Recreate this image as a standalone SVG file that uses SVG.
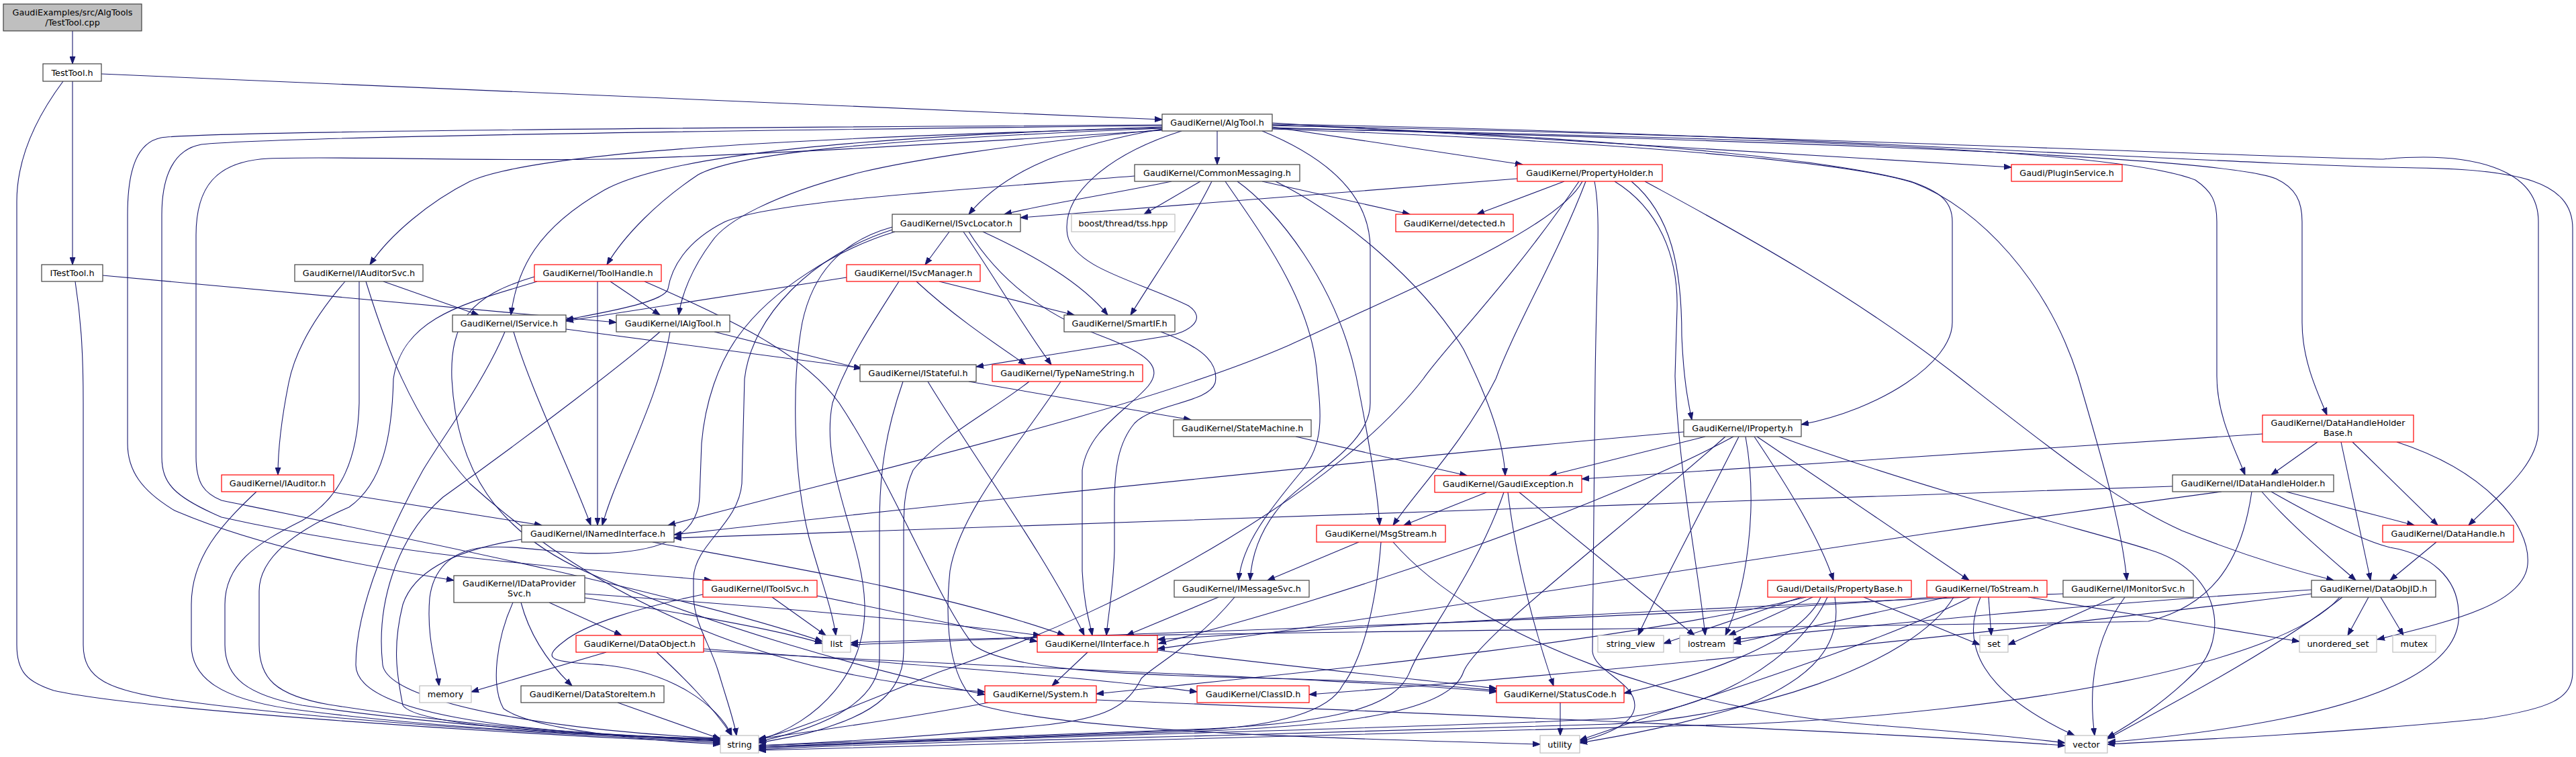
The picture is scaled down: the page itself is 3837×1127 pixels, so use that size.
<svg xmlns="http://www.w3.org/2000/svg" width="3837" height="1127" viewBox="0 0 3837 1127">
<defs>
<marker id="a" markerWidth="12" markerHeight="9" refX="11" refY="4.5" orient="auto" markerUnits="userSpaceOnUse"><path d="M0,0.5 L11,4.5 L0,8.5 z" fill="#191970" stroke="#191970" stroke-width="1"/></marker>
<style>
.b{fill:#ffffff;stroke:#404040;stroke-width:1.2}
.r{fill:#ffffff;stroke:#ff0000;stroke-width:1.2}
.g{fill:#ffffff;stroke:#bfbfbf;stroke-width:1.2}
.root{fill:#bfbfbf;stroke:#404040;stroke-width:1.2}
text{font-family:"DejaVu Sans","Liberation Sans",sans-serif;font-size:12.8px;fill:#000000;text-anchor:middle}
#edges path{fill:none;stroke:#191970;stroke-width:1.1;marker-end:url(#a)}
</style>
</defs>
<rect width="3837" height="1127" fill="#ffffff"/>
<g id="edges">
<path d="M108,46 L108,95"/>
<path d="M108,121 L108,394"/>
<path d="M151,110 L1731,178"/>
<path d="M94,121 C50,180 25,240 25,300 L25,960 C25,1000 40,1015 80,1028 C200,1055 700,1090 1073,1106"/>
<path d="M153,410 L918,480"/>
<path d="M112,419 C120,470 124,520 124,600 L124,960 C124,1010 160,1028 260,1042 C500,1075 850,1095 1073,1104"/>
<path d="M1813,195 L1813,245"/>
<path d="M1895,189 L2268,245"/>
<path d="M1895,183 L2996,249"/>
<path d="M1731,192 C1600,215 1500,250 1443,319"/>
<path d="M1731,190 C1200,205 800,225 700,270 C640,300 580,350 551,394"/>
<path d="M1731,191 C1300,208 1100,228 1040,260 C980,300 930,350 904,394"/>
<path d="M1731,189 C1300,203 1000,228 900,283 C800,340 770,400 761,469"/>
<path d="M1731,193 C1500,215 1350,240 1280,257 C1150,290 1080,330 1060,360 C1030,400 1015,440 1011,469"/>
<path d="M1760,195 C1650,230 1580,290 1590,350 C1600,400 1700,420 1770,455 C1800,475 1770,495 1740,500 L1454,546"/>
<path d="M1895,186 C2300,200 2700,230 2846,270 C2890,285 2908,300 2908,330 L2908,480 C2908,540 2800,610 2683,632"/>
<path d="M1895,190 C2600,210 3300,230 3390,266 C3420,280 3429,300 3429,330 L3429,480 C3429,540 3455,590 3466,618"/>
<path d="M1895,191 C2600,205 3150,220 3270,268 C3295,285 3302,300 3302,330 L3302,560 C3302,620 3330,670 3344,707"/>
<path d="M1895,187 C2600,200 3400,235 3550,237 C3680,225 3781,250 3781,330 L3781,640 C3781,690 3730,730 3677,782"/>
<path d="M1895,185 C2600,195 3300,245 3600,250 C3750,252 3832,270 3832,340 L3832,1000 C3832,1040 3800,1055 3700,1070 C3500,1090 3300,1100 3139,1108"/>
<path d="M1895,192 C2400,210 2750,240 2850,272 C2950,310 3050,420 3095,560 C3130,680 3160,780 3168,864"/>
<path d="M1880,195 C1990,240 2041,300 2041,370 L2041,600 C2041,660 1960,700 1910,750 C1875,790 1864,830 1862,864"/>
<path d="M1731,187 C1000,195 400,205 300,215 C260,222 241,260 241,320 L241,680 C241,720 260,740 330,770 C600,830 900,850 1060,864"/>
<path d="M1731,186 C1000,190 300,196 240,205 C205,212 190,250 190,320 L190,660 C190,700 210,730 260,760 C400,820 560,845 676,864"/>
<path d="M1731,194 C1400,215 1100,232 900,237 C700,240 500,232 400,236 C320,240 292,280 292,350 L292,680 C292,720 305,735 330,745 C600,800 1000,880 1225,955"/>
<path d="M1745,270 C1650,290 1550,305 1496,319"/>
<path d="M1788,270 L1704,319"/>
<path d="M1805,270 C1770,340 1720,410 1684,469"/>
<path d="M1880,270 L2100,319"/>
<path d="M1900,270 C2000,320 2120,420 2180,520 C2220,600 2240,660 2242,708"/>
<path d="M1843,270 C1900,310 1990,420 2020,560 C2040,660 2052,730 2055,782"/>
<path d="M1825,270 C1880,350 1955,450 1962,560 C1968,620 1972,660 1940,700 C1890,760 1850,810 1845,864"/>
<path d="M1690,262 C1400,285 1150,300 1080,330 C1020,360 1000,400 995,430 C990,450 900,465 843,476"/>
<path d="M2260,266 L1520,324"/>
<path d="M2330,270 L2200,319"/>
<path d="M2430,270 C2490,320 2505,400 2505,500 C2508,570 2515,600 2520,625"/>
<path d="M2357,270 C2320,340 2100,430 1920,514 C1700,610 1300,700 995,782"/>
<path d="M2362,270 C2320,380 2260,480 2228,564 C2180,660 2110,730 2075,782"/>
<path d="M2375,270 C2385,320 2378,400 2376,564 L2372,970 C2375,1000 2435,1015 2435,1050 C2435,1075 2400,1092 2353,1104"/>
<path d="M2405,270 C2470,310 2500,380 2498,460 L2495,560 C2500,700 2530,850 2540,946"/>
<path d="M2450,270 C2560,330 2750,430 2921,564 C3050,665 3150,745 3250,790 C3350,830 3420,850 3476,864"/>
<path d="M2352,270 C2250,420 2150,520 2120,564 C2000,720 1700,900 1400,1000 C1250,1060 1180,1090 1130,1100"/>
<path d="M1414,345 L1378,394"/>
<path d="M1464,345 C1540,380 1610,420 1650,469"/>
<path d="M1435,345 C1480,410 1520,480 1566,543"/>
<path d="M1443,345 C1490,420 1560,470 1640,500 C1720,530 1730,550 1710,575 C1680,610 1620,640 1612,700 L1612,850 C1614,900 1624,930 1627,946"/>
<path d="M1329,338 C1250,360 1210,410 1195,480 C1180,560 1180,700 1205,800 C1225,870 1240,910 1245,946"/>
<path d="M1329,342 C1210,380 1120,470 1109,564 L1105,720 C1100,780 1035,810 1033,860 L1033,890 C1035,930 1058,960 1070,1000 C1085,1050 1094,1075 1097,1095"/>
<path d="M1333,345 C1250,370 1150,430 1100,500 C1070,540 1050,600 1045,660 L1042,740 C1040,790 1000,815 926,822 C850,830 780,810 720,815 C670,820 645,850 640,890 C635,950 650,990 654,1021"/>
<path d="M1261,413 L843,478"/>
<path d="M1399,419 L1600,469"/>
<path d="M1365,419 C1420,470 1480,510 1528,543"/>
<path d="M1339,419 C1300,480 1260,540 1240,600 C1220,700 1285,800 1288,900 C1290,1000 1220,1075 1130,1102"/>
<path d="M514,419 C470,470 440,520 430,570 C418,630 414,670 414,707"/>
<path d="M571,419 L713,469"/>
<path d="M535,419 L535,600 C533,680 510,740 450,775 C380,810 335,840 335,900 L335,960 C335,1010 370,1035 450,1050 C650,1080 900,1095 1073,1103"/>
<path d="M545,419 C570,500 610,620 700,720 C900,900 1150,1010 1467,1030"/>
<path d="M909,419 L983,469"/>
<path d="M890,419 L890,782"/>
<path d="M796,412 C700,440 670,480 673,564 C680,700 740,790 870,850 C1050,930 1300,1000 1467,1034"/>
<path d="M800,419 C700,450 600,470 586,564 C584,650 570,720 520,755 C440,790 386,830 386,880 L386,960 C386,1010 410,1035 490,1049 C700,1082 900,1095 1073,1101"/>
<path d="M960,419 C1100,480 1200,530 1250,600 C1330,720 1400,900 1450,960 C1500,1000 1700,1005 1900,1010 C2050,1014 2150,1020 2229,1028"/>
<path d="M765,494 C790,580 850,700 880,782"/>
<path d="M843,490 L1283,548"/>
<path d="M752,494 C720,570 660,650 630,700 C585,780 530,900 530,990 C530,1060 750,1092 1073,1100"/>
<path d="M998,494 C980,600 920,700 897,782"/>
<path d="M1064,494 L1283,549"/>
<path d="M983,494 C930,540 800,640 660,740 C590,800 560,900 570,990 C580,1050 850,1090 1073,1099"/>
<path d="M1729,494 C1800,520 1815,545 1810,570 C1800,600 1720,600 1690,630 C1665,660 1660,700 1660,750 L1660,820 C1658,880 1650,920 1648,946"/>
<path d="M1443,568 L1774,625"/>
<path d="M1382,568 C1450,680 1560,830 1615,946"/>
<path d="M1345,568 C1320,640 1310,700 1310,780 L1310,980 C1310,1040 1240,1080 1130,1104"/>
<path d="M1533,568 C1480,610 1400,650 1360,700 C1346,730 1346,760 1346,800 L1346,970 C1346,1030 1300,1060 1240,1080 C1200,1095 1160,1100 1130,1106"/>
<path d="M1580,568 C1520,660 1430,760 1415,850 C1405,950 1420,1020 1460,1050 C1600,1090 2000,1100 2294,1108"/>
<path d="M1930,650 L2185,708"/>
<path d="M2540,650 L2308,708"/>
<path d="M2508,643 C2200,670 1500,740 1004,796"/>
<path d="M2613,650 C2660,720 2710,800 2731,864"/>
<path d="M2617,650 L2933,864"/>
<path d="M2582,650 C2400,750 2000,890 1726,958"/>
<path d="M2590,650 C2540,750 2470,880 2440,946"/>
<path d="M2600,650 C2620,760 2600,880 2570,946"/>
<path d="M2570,650 C2400,800 2200,950 2180,1000 C2160,1060 2000,1080 1800,1088 C1500,1098 1250,1106 1130,1112"/>
<path d="M2650,650 C2900,740 3150,800 3200,818 C3310,850 3320,950 3270,1000 C3220,1050 3170,1080 3139,1098"/>
<path d="M3452,658 L3383,707"/>
<path d="M3504,658 L3631,782"/>
<path d="M3487,658 L3531,864"/>
<path d="M3570,658 C3700,700 3770,780 3765,840 C3760,900 3650,925 3541,952"/>
<path d="M3370,646 L2356,713"/>
<path d="M497,733 L807,782"/>
<path d="M382,732 C330,780 285,830 285,900 L285,960 C285,1010 330,1040 430,1055 C650,1085 900,1095 1073,1102"/>
<path d="M2214,733 L2091,782"/>
<path d="M2246,733 C2260,850 2290,950 2314,1021"/>
<path d="M2263,733 L2524,946"/>
<path d="M2240,733 C2200,850 2120,950 2100,1000 C2080,1050 2000,1075 1800,1085 C1500,1095 1250,1105 1130,1110"/>
<path d="M3236,724 C2500,745 1500,790 1004,801"/>
<path d="M3405,732 L3596,782"/>
<path d="M3369,732 C3410,780 3470,830 3509,864"/>
<path d="M3383,732 C3450,770 3520,805 3560,815 C3620,825 3660,860 3662,910 C3670,990 3550,1040 3400,1070 C3300,1090 3200,1100 3140,1105"/>
<path d="M3309,732 C2800,800 2200,900 1724,966"/>
<path d="M3354,732 C3340,830 3300,900 3200,925 C2500,938 1700,940 1267,957"/>
<path d="M3629,807 L3560,864"/>
<path d="M972,807 C1150,840 1400,880 1586,946"/>
<path d="M777,803 C700,815 620,840 600,900 C585,960 590,1000 600,1050 C620,1080 850,1095 1073,1100"/>
<path d="M2024,807 L1888,864"/>
<path d="M2057,807 C2050,900 2030,980 2000,1020 C1980,1060 1900,1080 1800,1086 C1500,1098 1250,1107 1130,1112"/>
<path d="M2075,807 C2200,950 2500,1060 2800,1080 C2950,1092 3030,1100 3076,1106"/>
<path d="M818,897 L926,946"/>
<path d="M776,897 C790,950 820,990 852,1021"/>
<path d="M764,897 C740,950 730,1020 750,1055 C800,1090 1000,1105 1073,1108"/>
<path d="M871,884 C1100,900 1350,920 1550,946"/>
<path d="M871,890 C1000,910 1150,935 1225,958"/>
<path d="M1150,889 L1230,946"/>
<path d="M1047,885 C950,905 870,930 840,955 C800,985 830,985 900,990 C1000,1000 1070,1050 1090,1095"/>
<path d="M1217,887 L1545,955"/>
<path d="M1815,889 L1678,946"/>
<path d="M1839,889 C1780,960 1720,990 1700,1010 C1680,1050 1650,1070 1550,1080 C1400,1095 1250,1105 1130,1110"/>
<path d="M2683,889 L2478,958"/>
<path d="M2700,889 L2575,946"/>
<path d="M2776,889 L2949,960"/>
<path d="M2712,889 C2680,960 2520,1010 2419,1032"/>
<path d="M2722,889 C2680,980 2550,1060 2400,1070 C2200,1080 1800,1090 1500,1100 C1300,1106 1200,1110 1130,1114"/>
<path d="M2733,889 C2745,960 2700,1010 2600,1050 C2500,1080 2420,1095 2353,1106"/>
<path d="M2690,889 C2400,960 1900,1005 1633,1033"/>
<path d="M2900,889 L2582,958"/>
<path d="M2962,889 L2966,946"/>
<path d="M2950,889 C2920,960 2950,1030 3090,1095"/>
<path d="M3021,889 L3425,955"/>
<path d="M2910,889 C2850,990 2600,1070 2400,1078 C2200,1086 1800,1095 1500,1103 C1300,1108 1200,1112 1130,1116"/>
<path d="M2880,889 C2500,920 1800,938 1267,960"/>
<path d="M2935,889 C2800,960 2500,1050 2353,1102"/>
<path d="M3150,889 L2991,960"/>
<path d="M3165,889 C3120,950 3110,1020 3120,1095"/>
<path d="M3073,884 C2600,900 2000,935 1724,952"/>
<path d="M3528,889 L3497,946"/>
<path d="M3546,889 L3580,946"/>
<path d="M3443,878 C3100,900 2800,930 2582,952"/>
<path d="M3443,884 C3000,940 2400,1000 1950,1034"/>
<path d="M3485,889 C3400,990 3000,1060 2600,1078 C2200,1090 1700,1100 1130,1117"/>
<path d="M3489,889 C3400,960 3250,1040 3139,1100"/>
<path d="M903,971 L702,1030"/>
<path d="M978,971 C1020,1010 1060,1050 1090,1095"/>
<path d="M1048,966 C1300,985 1600,1005 1783,1030"/>
<path d="M1048,969 C1500,995 2000,1010 2229,1030"/>
<path d="M1620,971 L1567,1021"/>
<path d="M1724,968 C1900,990 2100,1010 2229,1025"/>
<path d="M920,1046 L1073,1100"/>
<path d="M1472,1046 C1350,1070 1200,1090 1130,1100"/>
<path d="M1633,1042 C2200,1065 2800,1090 3076,1110"/>
<path d="M2324,1046 L2324,1095"/>
</g>
<g id="n0"><rect class="root" x="5" y="6" width="206" height="40"/><text x="108" y="22.5">GaudiExamples/src/AlgTools</text><text x="108" y="37.5">/TestTool.cpp</text></g>
<g id="n1"><rect class="b" x="64" y="95" width="87" height="26"/><text x="107.5" y="112.5">TestTool.h</text></g>
<g id="n2"><rect class="b" x="62" y="394" width="91" height="25"/><text x="107.5" y="411">ITestTool.h</text></g>
<g id="n3"><rect class="b" x="1731" y="170" width="164" height="25"/><text x="1813" y="187">GaudiKernel/AlgTool.h</text></g>
<g id="n4"><rect class="b" x="1690" y="245" width="246" height="25"/><text x="1813" y="262">GaudiKernel/CommonMessaging.h</text></g>
<g id="n5"><rect class="r" x="2260" y="245" width="216" height="25"/><text x="2368" y="262">GaudiKernel/PropertyHolder.h</text></g>
<g id="n6"><rect class="r" x="2996" y="245" width="165" height="25"/><text x="3078.5" y="262">Gaudi/PluginService.h</text></g>
<g id="n7"><rect class="b" x="1329" y="319" width="191" height="26"/><text x="1424.5" y="336.5">GaudiKernel/ISvcLocator.h</text></g>
<g id="n8"><rect class="g" x="1596" y="319" width="154" height="26"/><text x="1673" y="336.5">boost/thread/tss.hpp</text></g>
<g id="n9"><rect class="r" x="2079" y="319" width="175" height="26"/><text x="2166.5" y="336.5">GaudiKernel/detected.h</text></g>
<g id="n10"><rect class="b" x="439" y="394" width="191" height="25"/><text x="534.5" y="411">GaudiKernel/IAuditorSvc.h</text></g>
<g id="n11"><rect class="r" x="796" y="394" width="189" height="25"/><text x="890.5" y="411">GaudiKernel/ToolHandle.h</text></g>
<g id="n12"><rect class="r" x="1261" y="394" width="199" height="25"/><text x="1360.5" y="411">GaudiKernel/ISvcManager.h</text></g>
<g id="n13"><rect class="b" x="674" y="469" width="169" height="25"/><text x="758.5" y="486">GaudiKernel/IService.h</text></g>
<g id="n14"><rect class="b" x="918" y="469" width="169" height="25"/><text x="1002.5" y="486">GaudiKernel/IAlgTool.h</text></g>
<g id="n15"><rect class="b" x="1585" y="469" width="165" height="25"/><text x="1667.5" y="486">GaudiKernel/SmartIF.h</text></g>
<g id="n16"><rect class="b" x="1281" y="543" width="173" height="25"/><text x="1367.5" y="560">GaudiKernel/IStateful.h</text></g>
<g id="n17"><rect class="r" x="1478" y="543" width="224" height="25"/><text x="1590" y="560">GaudiKernel/TypeNameString.h</text></g>
<g id="n18"><rect class="b" x="1748" y="625" width="205" height="25"/><text x="1850.5" y="642">GaudiKernel/StateMachine.h</text></g>
<g id="n19"><rect class="b" x="2508" y="625" width="175" height="25"/><text x="2595.5" y="642">GaudiKernel/IProperty.h</text></g>
<g id="n20"><rect class="r" x="3370" y="618" width="225" height="40"/><text x="3482.5" y="634">GaudiKernel/DataHandleHolder</text><text x="3482.5" y="649">Base.h</text></g>
<g id="n21"><rect class="r" x="330" y="707" width="167" height="25"/><text x="413.5" y="724">GaudiKernel/IAuditor.h</text></g>
<g id="n22"><rect class="r" x="2137" y="708" width="219" height="25"/><text x="2246.5" y="725">GaudiKernel/GaudiException.h</text></g>
<g id="n23"><rect class="b" x="3236" y="707" width="240" height="25"/><text x="3356" y="724">GaudiKernel/IDataHandleHolder.h</text></g>
<g id="n24"><rect class="b" x="777" y="782" width="227" height="25"/><text x="890.5" y="799">GaudiKernel/INamedInterface.h</text></g>
<g id="n25"><rect class="r" x="1961" y="782" width="192" height="25"/><text x="2057" y="799">GaudiKernel/MsgStream.h</text></g>
<g id="n26"><rect class="r" x="3549" y="782" width="195" height="25"/><text x="3646.5" y="799">GaudiKernel/DataHandle.h</text></g>
<g id="n27"><rect class="b" x="676" y="857" width="195" height="40"/><text x="773.5" y="873">GaudiKernel/IDataProvider</text><text x="773.5" y="888">Svc.h</text></g>
<g id="n28"><rect class="r" x="1047" y="864" width="170" height="25"/><text x="1132" y="881">GaudiKernel/IToolSvc.h</text></g>
<g id="n29"><rect class="b" x="1749" y="864" width="201" height="25"/><text x="1849.5" y="881">GaudiKernel/IMessageSvc.h</text></g>
<g id="n30"><rect class="r" x="2633" y="864" width="214" height="25"/><text x="2740" y="881">Gaudi/Details/PropertyBase.h</text></g>
<g id="n31"><rect class="r" x="2870" y="864" width="179" height="25"/><text x="2959.5" y="881">GaudiKernel/ToStream.h</text></g>
<g id="n32"><rect class="b" x="3073" y="864" width="194" height="25"/><text x="3170" y="881">GaudiKernel/IMonitorSvc.h</text></g>
<g id="n33"><rect class="b" x="3443" y="864" width="185" height="25"/><text x="3535.5" y="881">GaudiKernel/DataObjID.h</text></g>
<g id="n34"><rect class="g" x="1225" y="946" width="42" height="25"/><text x="1246" y="963">list</text></g>
<g id="n35"><rect class="r" x="858" y="946" width="190" height="25"/><text x="953" y="963">GaudiKernel/DataObject.h</text></g>
<g id="n36"><rect class="r" x="1545" y="946" width="179" height="25"/><text x="1634.5" y="963">GaudiKernel/IInterface.h</text></g>
<g id="n37"><rect class="g" x="2380" y="946" width="98" height="25"/><text x="2429" y="963">string_view</text></g>
<g id="n38"><rect class="g" x="2502" y="946" width="80" height="25"/><text x="2542" y="963">iostream</text></g>
<g id="n39"><rect class="g" x="2949" y="946" width="42" height="25"/><text x="2970" y="963">set</text></g>
<g id="n40"><rect class="g" x="3425" y="946" width="115" height="25"/><text x="3482.5" y="963">unordered_set</text></g>
<g id="n41"><rect class="g" x="3564" y="946" width="64" height="25"/><text x="3596" y="963">mutex</text></g>
<g id="n42"><rect class="g" x="625" y="1021" width="77" height="25"/><text x="663.5" y="1038">memory</text></g>
<g id="n43"><rect class="b" x="776" y="1021" width="213" height="25"/><text x="882.5" y="1038">GaudiKernel/DataStoreItem.h</text></g>
<g id="n44"><rect class="r" x="1467" y="1021" width="166" height="25"/><text x="1550" y="1038">GaudiKernel/System.h</text></g>
<g id="n45"><rect class="r" x="1783" y="1021" width="167" height="25"/><text x="1866.5" y="1038">GaudiKernel/ClassID.h</text></g>
<g id="n46"><rect class="r" x="2229" y="1021" width="190" height="25"/><text x="2324" y="1038">GaudiKernel/StatusCode.h</text></g>
<g id="n47"><rect class="g" x="1073" y="1095" width="57" height="26"/><text x="1101.5" y="1112.5">string</text></g>
<g id="n48"><rect class="g" x="2294" y="1095" width="59" height="26"/><text x="2323.5" y="1112.5">utility</text></g>
<g id="n49"><rect class="g" x="3076" y="1095" width="63" height="26"/><text x="3107.5" y="1112.5">vector</text></g>
</svg>
